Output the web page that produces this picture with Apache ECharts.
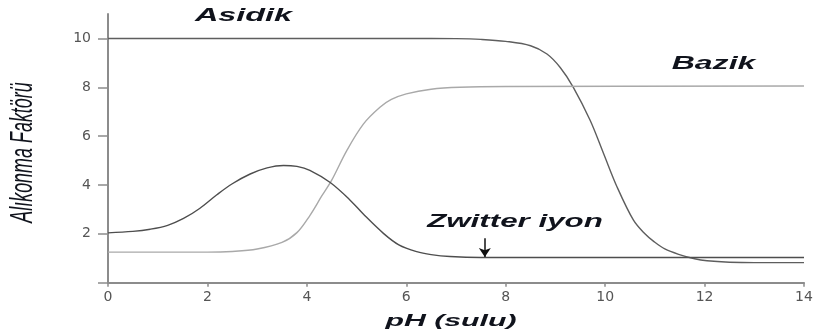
<!DOCTYPE html>
<html>
<head>
<meta charset="utf-8">
<script src="https://cdn.jsdelivr.net/npm/echarts@6/dist/echarts.min.js"></script>
<style>
  html, body { margin: 0; padding: 0; background: #fff; }
  #chart { width: 816px; height: 334px; }
</style>
</head>
<body>
<div id="chart"></div>
<script>
// Retention factor of an amino acid's three forms versus aqueous pH
const phRange = [0, 14];
const kRange = [0, 11];
const kLabelValues = [2, 4, 6, 8, 10];
const kTickValues = [0, 2, 4, 6, 8, 10];

// [pH, retention factor]
const asidik = [
  [0, 10], [6, 10], [7, 9.99], [7.5, 9.96], [8, 9.88], [8.5, 9.7], [8.83, 9.36],
  [9.1, 8.8], [9.36, 8.0], [9.7, 6.64], [9.97, 5.28], [10.24, 3.92], [10.57, 2.56],
  [10.8, 2.0], [10.97, 1.7], [11.2, 1.38], [11.51, 1.14], [11.8, 0.98],
  [12.05, 0.9], [12.5, 0.84], [13, 0.82], [14, 0.82]
];
const bazik = [
  [0, 1.25], [1, 1.25], [2, 1.25], [2.5, 1.28], [3, 1.38], [3.5, 1.65],
  [3.8, 2.05], [4.06, 2.75], [4.3, 3.55], [4.5, 4.2], [4.8, 5.4], [5.14, 6.5],
  [5.47, 7.18], [5.7, 7.5], [6.0, 7.73], [6.5, 7.92], [7.08, 8.0], [8, 8.03], [14, 8.05]
];
const zwitter = [
  [0, 2.04], [0.5, 2.1], [0.85, 2.19], [1.2, 2.35], [1.52, 2.63], [1.85, 3.05],
  [2.19, 3.6], [2.5, 4.05], [2.86, 4.45], [3.2, 4.7], [3.53, 4.8], [3.8, 4.76],
  [4.06, 4.6], [4.47, 4.1], [4.87, 3.38], [5.14, 2.8], [5.54, 2.02], [5.85, 1.55],
  [6.21, 1.27], [6.5, 1.15], [6.88, 1.07], [7.5, 1.03], [14, 1.03]
];
// arrow pointing at the zwitterion plateau
const zwitterArrow = [[7.58, 1.82], [7.58, 1.05]];

const chart = echarts.init(document.getElementById('chart'), null, { renderer: 'canvas' });

const inkColor = '#10131c';
const fringe = {
  textShadowColor: 'rgba(235,145,30,0.55)',
  textShadowOffsetX: -1,
  textShadowOffsetY: 0,
  textShadowBlur: 0
};

function label(text, x, y, opts) {
  return {
    type: 'text',
    x: x,
    y: y,
    rotation: opts.rotation || 0,
    scaleX: opts.scaleX || 1,
    silent: true,
    style: Object.assign({
      text: text,
      fill: inkColor,
      font: opts.font,
      align: 'center',
      verticalAlign: 'middle'
    }, fringe)
  };
}

const boldItalic = 'italic bold 18px "Liberation Sans", Arial, sans-serif';

const lineSeries = (name, data, color) => ({
  name: name,
  type: 'line',
  data: data,
  showSymbol: false,
  smooth: 0.35,
  lineStyle: { color: color, width: 1.4 },
  silent: true,
  animation: false
});

const zw = lineSeries('Zwitter iyon', zwitter, '#4e4e4e');
zw.markLine = {
  silent: true,
  animation: false,
  symbol: ['none', 'arrow'],
  symbolSize: [9, 9],
  label: { show: false },
  lineStyle: { color: '#111', width: 1.5, type: 'solid' },
  data: [[{ coord: zwitterArrow[0] }, { coord: zwitterArrow[1] }]]
};

chart.setOption({
  animation: false,
  backgroundColor: '#fff',
  grid: { left: 108, right: 12, top: 14, bottom: 51.3, containLabel: false },
  xAxis: {
    type: 'value',
    min: phRange[0],
    max: phRange[1],
    interval: 2,
    axisLine: { show: true, lineStyle: { color: '#8c8c8c', width: 2 } },
    axisTick: { show: true, length: 4, lineStyle: { color: '#8c8c8c', width: 1.5 } },
    axisLabel: {
      color: '#555',
      fontFamily: '"DejaVu Sans", sans-serif',
      fontSize: 14,
      margin: 8
    },
    splitLine: { show: false }
  },
  yAxis: {
    type: 'value',
    min: kRange[0],
    max: kRange[1],
    interval: 2,
    axisLine: { show: true, lineStyle: { color: '#8c8c8c', width: 2 } },
    axisTick: {
      show: true, length: 10, customValues: kTickValues,
      lineStyle: { color: '#8c8c8c', width: 1.5 }
    },
    axisLabel: {
      color: '#555',
      fontFamily: '"DejaVu Sans", sans-serif',
      fontSize: 14,
      margin: 17,
      customValues: kLabelValues
    },
    splitLine: { show: false }
  },
  series: [
    lineSeries('Asidik', asidik, '#5e5e5e'),
    lineSeries('Bazik', bazik, '#a9a9a9'),
    zw
  ],
  graphic: [
    label('Asidik', 243.5, 16.5, { font: boldItalic, scaleX: 1.8 }),
    label('Bazik', 713.5, 64, { font: boldItalic, scaleX: 1.78 }),
    label('Zwitter iyon', 515, 222, { font: boldItalic, scaleX: 1.74 }),
    label('pH (sulu)', 451, 321, { font: 'italic bold 17px "Liberation Sans", Arial, sans-serif', scaleX: 1.78 }),
    label('Alıkonma Faktörü', 23.5, 152.5, {
      font: 'italic 32px "Liberation Sans", Arial, sans-serif',
      rotation: Math.PI / 2,
      scaleX: 0.56
    })
  ]
});
</script>
</body>
</html>
